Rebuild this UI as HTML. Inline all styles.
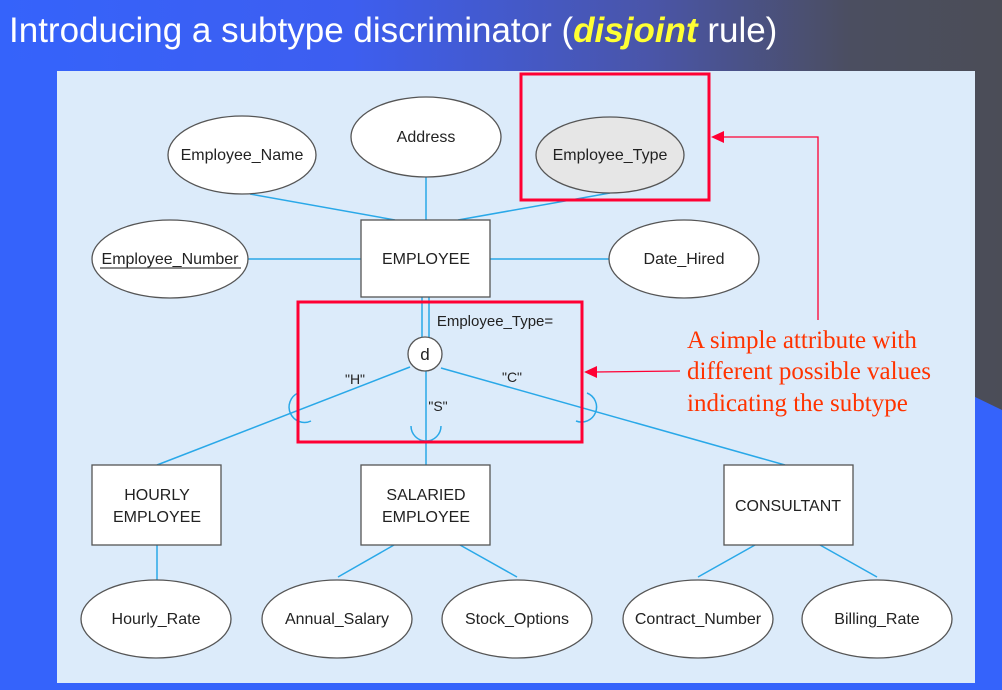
<!DOCTYPE html>
<html><head><meta charset="utf-8"><style>
html,body{margin:0;padding:0;width:1002px;height:690px;overflow:hidden}
body{background:linear-gradient(to right,#3563fb 0%,#3d5ef0 35%,#4a55a8 65%,#4b4e60 85%,#4b4d57 100%);position:relative;font-family:"Liberation Sans",sans-serif}
.bl{position:absolute;left:0;top:60px;width:60px;height:630px;background:#3563fb}
.br{position:absolute;left:0;top:0;width:1002px;height:690px}
.title{position:absolute;left:9px;top:11px;color:#fff;font-size:35px;white-space:nowrap}
.title b{color:#ffff33;font-style:italic}
</style></head><body>
<div class="bl"></div>
<svg class="br" width="1002" height="690">
<polygon points="940,380 1002,410 1002,690 940,690" fill="#3563fb"/>
<rect x="0" y="683" width="1002" height="7" fill="#3563fb"/>
<rect x="57" y="71" width="918" height="612" fill="#dcebfa"/>
<g stroke="#29a8e8" stroke-width="1.5" fill="none">
<line x1="250" y1="194" x2="395" y2="220"/>
<line x1="426" y1="177" x2="426" y2="220"/>
<line x1="610" y1="193" x2="458" y2="220"/>
<line x1="248" y1="259" x2="361" y2="259"/>
<line x1="490" y1="259" x2="609" y2="259"/>
<line x1="422" y1="297" x2="422" y2="338"/>
<line x1="429" y1="297" x2="429" y2="338"/>
<line x1="410" y1="367" x2="157" y2="465"/>
<line x1="426" y1="371" x2="426" y2="465"/>
<line x1="441" y1="368" x2="785" y2="465"/>
<line x1="157" y1="545" x2="157" y2="580"/>
<line x1="394" y1="545" x2="338" y2="577"/>
<line x1="460" y1="545" x2="517" y2="577"/>
<line x1="755" y1="545" x2="698" y2="577"/>
<line x1="820" y1="545" x2="877" y2="577"/>
<path d="M298,393 A14,14 0 0 0 311,421"/>
<path d="M411,426 A15,15 0 0 0 441,426"/>
<path d="M587,393 A14,14 0 0 1 576,421"/>
</g>
<g stroke="#555" stroke-width="1.3" fill="#fff">
<ellipse cx="242" cy="155" rx="74" ry="39"/>
<ellipse cx="426" cy="137" rx="75" ry="40"/>
<ellipse cx="610" cy="155" rx="74" ry="38" fill="#e6e6e6"/>
<ellipse cx="170" cy="259" rx="78" ry="39"/>
<ellipse cx="684" cy="259" rx="75" ry="39"/>
<rect x="361" y="220" width="129" height="77"/>
<circle cx="425" cy="354" r="17"/>
<rect x="92" y="465" width="129" height="80"/>
<rect x="361" y="465" width="129" height="80"/>
<rect x="724" y="465" width="129" height="80"/>
<ellipse cx="156" cy="619" rx="75" ry="39"/>
<ellipse cx="337" cy="619" rx="75" ry="39"/>
<ellipse cx="517" cy="619" rx="75" ry="39"/>
<ellipse cx="698" cy="619" rx="75" ry="39"/>
<ellipse cx="877" cy="619" rx="75" ry="39"/>
</g>
<g font-family="Liberation Sans,sans-serif" font-size="16" fill="#222" text-anchor="middle">
<text x="242" y="160">Employee_Name</text>
<text x="426" y="142">Address</text>
<text x="610" y="160">Employee_Type</text>
<text x="170" y="264">Employee_Number</text>
<line x1="100" y1="268" x2="241" y2="268" stroke="#444" stroke-width="1.2"/>
<text x="684" y="264">Date_Hired</text>
<text x="426" y="264">EMPLOYEE</text>
<text x="425" y="360" font-size="17">d</text>
<text x="495" y="326" font-size="15">Employee_Type=</text>
<text x="355" y="384" font-size="14">"H"</text>
<text x="438" y="411" font-size="14">"S"</text>
<text x="512" y="382" font-size="14">"C"</text>
<text x="157" y="500">HOURLY</text>
<text x="157" y="522">EMPLOYEE</text>
<text x="426" y="500">SALARIED</text>
<text x="426" y="522">EMPLOYEE</text>
<text x="788" y="511">CONSULTANT</text>
<text x="156" y="624">Hourly_Rate</text>
<text x="337" y="624">Annual_Salary</text>
<text x="517" y="624">Stock_Options</text>
<text x="698" y="624">Contract_Number</text>
<text x="877" y="624">Billing_Rate</text>
</g>
<g stroke="#ff0033" fill="none">
<rect x="521" y="74" width="188" height="126" stroke-width="3"/>
<rect x="298" y="302" width="284" height="140" stroke-width="3"/>
<polyline points="818,320 818,137 722,137" stroke-width="1.3"/>
<line x1="680" y1="371" x2="595" y2="372" stroke-width="1.3"/>
</g>
<polygon points="711,137 724,131 724,143" fill="#ff0033"/>
<polygon points="584,372 597,366 597,378" fill="#ff0033"/>
<g font-family="Liberation Serif,serif" font-size="25" fill="#ff3300">
<text x="687" y="348">A simple attribute with</text>
<text x="687" y="379">different possible values</text>
<text x="687" y="411">indicating the subtype</text>
</g>
</svg>
<div class="title">Introducing a subtype discriminator (<b>disjoint</b> rule)</div>
</body></html>
